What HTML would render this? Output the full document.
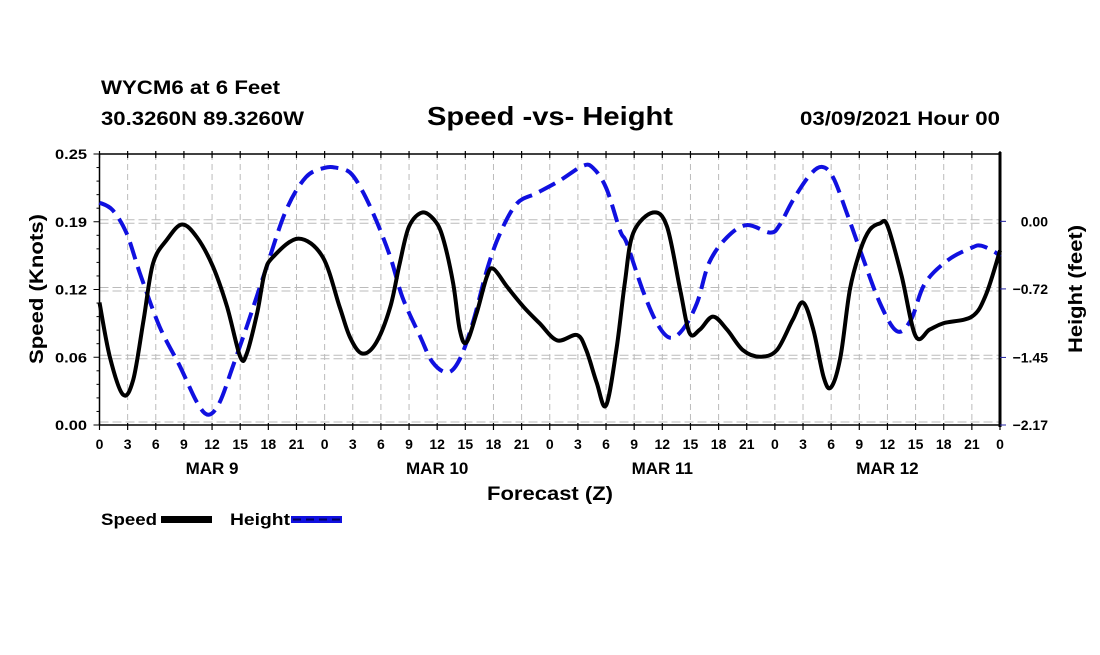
<!DOCTYPE html>
<html><head><meta charset="utf-8"><style>
body{margin:0;background:#fff;}
svg text{font-family:"Liberation Sans",Arial,sans-serif;font-weight:bold;fill:#000;}
</style></head><body>
<svg id="chart" width="1100" height="650" viewBox="0 0 1100 650" xmlns="http://www.w3.org/2000/svg">
<text x="101" y="94" font-size="19" textLength="179" lengthAdjust="spacingAndGlyphs">WYCM6 at 6 Feet</text>
<text x="101" y="125" font-size="19" textLength="203" lengthAdjust="spacingAndGlyphs">30.3260N 89.3260W</text>
<text x="427" y="125" font-size="26" textLength="246" lengthAdjust="spacingAndGlyphs">Speed -vs- Height</text>
<text x="800" y="125" font-size="19" textLength="200" lengthAdjust="spacingAndGlyphs">03/09/2021 Hour 00</text>
<g id="grid"></g>
<g id="axes"></g>
<g id="series"></g>
<text transform="translate(43,289) rotate(-90)" font-size="19" text-anchor="middle" textLength="150" lengthAdjust="spacingAndGlyphs">Speed (Knots)</text>
<text transform="translate(1082,289) rotate(-90)" font-size="19" text-anchor="middle" textLength="128" lengthAdjust="spacingAndGlyphs">Height (feet)</text>
<text x="487" y="500" font-size="19" textLength="126" lengthAdjust="spacingAndGlyphs">Forecast (Z)</text>
<g>
<text x="101" y="525" font-size="17" textLength="56" lengthAdjust="spacingAndGlyphs">Speed</text>
<rect x="161" y="516" width="51" height="7" fill="#000"/>
<text x="230" y="525" font-size="17" textLength="60" lengthAdjust="spacingAndGlyphs">Height</text>
<rect x="291" y="516" width="51" height="7" fill="#1010e0"/>
<line x1="293" y1="519.5" x2="342" y2="519.5" stroke="#000060" stroke-width="2" stroke-dasharray="8,5"/>
</g>
</svg>
<script>
const speedHours=[0,1.1,2.5,3.6,4.7,5.7,7.2,8.8,10.4,12.1,13.6,15,15.7,16.8,17.6,18.5,21.2,23.8,25.6,26.7,28,29.5,31,32,33,34.4,35.7,36.6,37.7,38.4,39.1,40.2,41.3,42,43.5,45.2,46.9,48.8,50.9,51.9,53,54,55.1,56,56.9,59,60.5,61.9,62.9,64,65.4,66.9,68.6,70.4,72.2,73.9,75,76.1,77.2,78,79,80,81.1,82.1,83.2,84,85.5,87,88.5,90,93,94.5,96];
const speedValues=[0.113,0.063,0.028,0.042,0.097,0.149,0.171,0.185,0.173,0.146,0.109,0.063,0.066,0.103,0.140,0.155,0.172,0.155,0.109,0.081,0.066,0.076,0.109,0.149,0.183,0.196,0.189,0.173,0.131,0.088,0.076,0.103,0.137,0.144,0.127,0.109,0.094,0.078,0.083,0.069,0.039,0.018,0.069,0.131,0.177,0.196,0.183,0.125,0.085,0.088,0.100,0.088,0.069,0.063,0.069,0.097,0.113,0.088,0.044,0.035,0.063,0.125,0.161,0.180,0.186,0.184,0.138,0.082,0.088,0.094,0.100,0.120,0.161];
const heightHours=[0,1.4,2.9,4.3,6.4,8.6,10.4,11.6,12.8,14.2,15.7,17.8,19.9,22,24,25.3,26.7,28,29.5,31,32.3,34.2,35.5,37.1,38.4,39.8,41.3,42.7,44.5,46.6,49,51.5,52.6,54,55.5,56.2,57.9,59.4,60.8,62.2,63.7,65,66.9,69,71.5,72.5,73.9,75.7,77,78.2,79.7,81.1,83.2,85,86.5,88,90.5,93,94,95.5,96];
const heightValues=[0.20,0.12,-0.13,-0.55,-1.12,-1.55,-1.93,-2.06,-1.93,-1.55,-1.12,-0.49,0.12,0.47,0.57,0.57,0.52,0.33,0.01,-0.38,-0.81,-1.23,-1.50,-1.61,-1.47,-1.08,-0.52,-0.13,0.19,0.30,0.43,0.59,0.57,0.36,-0.10,-0.23,-0.73,-1.08,-1.24,-1.15,-0.87,-0.44,-0.17,-0.04,-0.12,-0.04,0.22,0.49,0.58,0.47,0.08,-0.31,-0.87,-1.17,-1.05,-0.66,-0.41,-0.28,-0.26,-0.33,-0.38];
const hourTickLabels=["0","3","6","9","12","15","18","21"];
const dayLabels=["MAR 9","MAR 10","MAR 11","MAR 12"];
const speedTickLabels=["0.00","0.06","0.12","0.19","0.25"];
const heightTickLabels=["-2.17","-1.45","-0.72","0.00"];

const NS="http://www.w3.org/2000/svg";
const X0=99.5,X1=1000,Y0=425,Y1=154;
const xs=h=>X0+(X1-X0)*h/96;
const ySpeed=v=>Y0-(Y0-Y1)*v/0.25;
const yHeight=v=>Y0-(Y0-Y1)*(v+2.17)/2.8875;
function mk(tag,attrs,parent){const e=document.createElementNS(NS,tag);for(const k in attrs)e.setAttribute(k,attrs[k]);parent.appendChild(e);return e;}
const grid=document.getElementById('grid'),axes=document.getElementById('axes'),series=document.getElementById('series');

for(let h=3;h<96;h+=3){const l=mk('line',{x1:xs(h),x2:xs(h),y1:Y1,y2:Y0,stroke:'#bbb','stroke-width':1,'stroke-dasharray':'6,4'},grid);

}
for(let i=1;i<=3;i++){const y=Y0-(Y0-Y1)*i/4;
 for(const o of [-2,1.5]){const l=mk('line',{x1:X0,x2:X1,y1:y+o,y2:y+o,stroke:'#bbb','stroke-width':1,'stroke-dasharray':'9,4'},grid);
 
 }}
{const l=mk('line',{x1:X0,x2:X1,y1:Y0-3,y2:Y0-3,stroke:'#bbb','stroke-width':1,'stroke-dasharray':'9,4'},grid);

}

mk('line',{x1:X0,x2:X1,y1:Y1,y2:Y1,stroke:'#000','stroke-width':1.5},axes);
mk('line',{x1:X0,x2:X1,y1:Y0,y2:Y0,stroke:'#000','stroke-width':1.5},axes);
mk('line',{x1:X0,x2:X0,y1:Y1,y2:Y0,stroke:'#000','stroke-width':1.5},axes);
mk('line',{x1:X1,x2:X1,y1:Y1-2,y2:Y0+2,stroke:'#000','stroke-width':3},axes);
for(let h=0;h<=96;h+=3){
 mk('line',{x1:xs(h),x2:xs(h),y1:Y0-2,y2:Y0+5,stroke:'#000','stroke-width':1.2},axes);
 mk('line',{x1:xs(h),x2:xs(h),y1:Y1-3,y2:Y1+4,stroke:'#000','stroke-width':1.2},axes);
 const t=mk('text',{x:xs(h),y:449,'font-size':14,'text-anchor':'middle'},axes);
 t.textContent=hourTickLabels[(h/3)%8];
 
 }
dayLabels.forEach((d,i)=>{const t=mk('text',{x:xs(12+24*i),y:474,'font-size':17,'text-anchor':'middle'},axes);
 t.textContent=d;
 
 });
for(let i=0;i<=20;i++){const y=Y0-(Y0-Y1)*i/20;mk('line',{x1:X0-(i%5===0?6:3),x2:X0,y1:y,y2:y,stroke:'#000','stroke-width':1},axes);}
speedTickLabels.forEach((s,i)=>{const t=mk('text',{x:87,y:Y0-(Y0-Y1)*i/4+5,'font-size':14,'text-anchor':'end',textLength:32,lengthAdjust:'spacingAndGlyphs'},axes);
 t.textContent=s;
 
 });
heightTickLabels.forEach((s,i)=>{const v=parseFloat(s);const y=yHeight(v);
 mk('line',{x1:X1,x2:X1+6,y1:y,y2:y,stroke:'#2020a0','stroke-width':1},axes);
 const t=mk('text',{x:1048,y:y+5,'font-size':14,'text-anchor':'end'},axes);
 t.textContent=s.replace('-','\u2212');
 
 });

function pathFrom(hours,vals,yf){
 const p=hours.map((h,i)=>[xs(h),yf(vals[i])]);
 let d='M'+p[0][0].toFixed(1)+','+p[0][1].toFixed(1);
 for(let i=0;i<p.length-1;i++){
  const p0=p[i>0?i-1:i],p1=p[i],p2=p[i+1],p3=p[i+2<p.length?i+2:i+1];
  const c1=[p1[0]+(p2[0]-p0[0])/6,p1[1]+(p2[1]-p0[1])/6];
  const c2=[p2[0]-(p3[0]-p1[0])/6,p2[1]-(p3[1]-p1[1])/6];
  d+=' C'+c1.map(v=>v.toFixed(1)).join(',')+' '+c2.map(v=>v.toFixed(1)).join(',')+' '+p2.map(v=>v.toFixed(1)).join(',');}
 return d;}
const hp=mk('path',{d:pathFrom(heightHours,heightValues,yHeight),fill:'none',stroke:'#1010e0','stroke-width':4,'stroke-dasharray':'18,8'},series);


const sp=mk('path',{d:pathFrom(speedHours,speedValues,ySpeed),fill:'none',stroke:'#000','stroke-width':4,'stroke-linejoin':'round'},series);


</script>
</body></html>
